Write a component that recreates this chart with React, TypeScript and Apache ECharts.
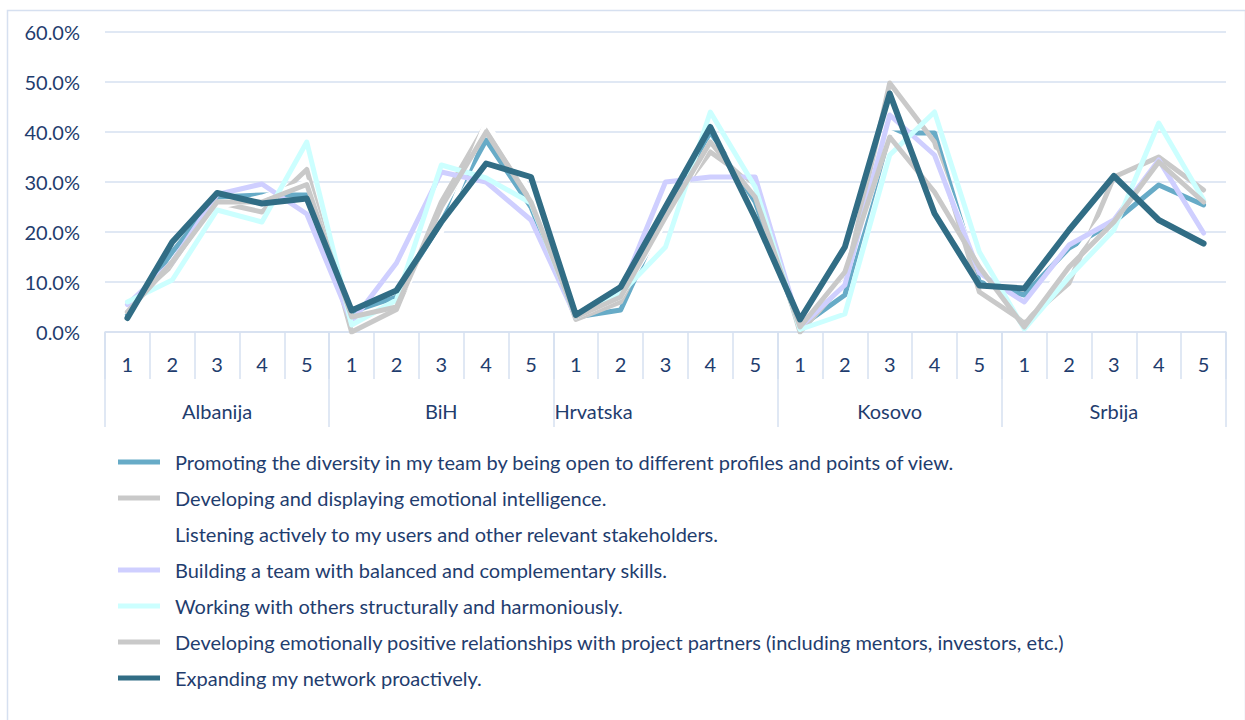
import React, { useEffect, useRef } from "react";
import * as echarts from "echarts";

const countries = ["Albanija", "BiH", "Hrvatska", "Kosovo", "Srbija"];
const levels = ["1", "2", "3", "4", "5"];
const yTicks = [0, 10, 20, 30, 40, 50, 60];

const seriesNames = [
  "Promoting the diversity in my team by being open to different profiles and points of view.",
  "Developing and displaying emotional intelligence.",
  "Listening actively to my users and other relevant stakeholders.",
  "Building a team with balanced and complementary skills.",
  "Working with others structurally and harmoniously.",
  "Developing emotionally positive relationships with project partners (including mentors, investors, etc.)",
  "Expanding my network proactively.",
];

const promoting = [3.5, 16, 27, 27.4, 27.4, 4, 7, 22, 38.4, 25, 3, 4.4, 24, 40, 26, 1, 7.4, 39.8, 39.8, 10, 7.4, 16.8, 22, 29.4, 25.4];
const emotional = [4, 12.5, 26, 24, 32.5, 0, 4.5, 26, 41.5, 27, 2.5, 6, 24, 36, 29.6, 0, 10, 49.8, 38, 8, 2, 9.8, 31, 35, 28.4];
const listening = [4, 12, 25, 27, 30, 2, 6, 20, 42, 28, 3, 7, 22, 38, 30, 1, 10, 40, 36, 12, 3, 14, 26, 33, 27];
const building = [5.5, 14, 27.5, 29.6, 23.6, 2, 13.8, 32, 30, 22.4, 3, 8, 30, 31, 31, 1, 9.4, 43.4, 35.4, 11.8, 6, 17.4, 22.4, 34.4, 19.8];
const working = [6, 10.4, 24.4, 22, 38, 1.4, 6.4, 33.4, 30.8, 25.8, 3, 7.7, 17, 44, 29, 0.5, 3.6, 35.4, 44, 16, 0.6, 11, 20.4, 41.8, 26.4];
const relationships = [4, 14, 26, 26, 29.5, 3, 5, 25, 40, 26, 3, 7, 23, 38, 27, 1, 12, 39, 28, 13, 1, 13, 22, 34, 26];
const expanding = [2.8, 18, 27.8, 25.7, 26.7, 4.3, 8.3, 22, 33.7, 31, 3.4, 9, 25, 41, 22.8, 2.5, 17, 47.7, 23.7, 9.3, 8.7, 20.4, 31.2, 22.4, 17.7];

const seriesValues = [promoting, emotional, listening, building, working, relationships, expanding];
const seriesColors = ["#67ABC7", "#C9C9C9", "#FFFFFF", "#CFCFFF", "#CCFFFF", "#C9C9C9", "#316D85"];

const TEXT = "#1F3D6E";
const GRIDC = "#D6E0F0";
const FONT = "Lato, 'Open Sans', sans-serif";

export default function App() {
  const ref = useRef<HTMLDivElement>(null);
  useEffect(() => {
    const chart = echarts.init(ref.current!, null, { renderer: "svg" });
    const levelCats: string[] = [];
    countries.forEach(() => levels.forEach((l) => levelCats.push(l)));
    const countryCats = countries.map((c) =>
      c === "Hrvatska"
        ? { value: c, textStyle: { padding: [0, 144, 0, 0] } }
        : c
    );
    chart.setOption({
      animation: false,
      backgroundColor: "#FFFFFF",
      textStyle: { fontFamily: FONT },
      graphic: [
        {
          type: "rect",
          left: 5,
          top: 8,
          shape: { width: 1238, height: 730 },
          style: { fill: "none", stroke: GRIDC, lineWidth: 1.5 },
          silent: true,
        },
      ],
      grid: { left: 105, right: 19, top: 32, bottom: 388 },
      legend: {
        orient: "vertical",
        left: 113,
        top: 446,
        icon: "rect",
        itemWidth: 42,
        itemHeight: 5,
        itemGap: 14,
        data: seriesNames.map((n, i) => ({ name: n, itemStyle: { color: seriesColors[i] } })),
        textStyle: {
          color: TEXT,
          fontSize: 20,
          fontFamily: FONT,
          lineHeight: 22,
          padding: [0, 0, 0, 10],
        },
        selectedMode: false,
      },
      xAxis: [
        {
          type: "category",
          data: levelCats,
          position: "bottom",
          axisLine: { show: true, lineStyle: { color: GRIDC, width: 1.5 } },
          axisTick: { show: true, length: 47, interval: 0, lineStyle: { color: GRIDC, width: 1.5 } },
          axisLabel: { interval: 0, color: TEXT, fontSize: 20, margin: 22, fontFamily: FONT },
          splitLine: { show: false },
        },
        {
          type: "category",
          data: countryCats,
          position: "bottom",
          axisLine: { show: false },
          axisTick: { show: true, length: 95, interval: 0, lineStyle: { color: GRIDC, width: 1.5 } },
          axisLabel: { interval: 0, color: TEXT, fontSize: 20, margin: 69, fontFamily: FONT },
          splitLine: { show: false },
        },
      ],
      yAxis: {
        type: "value",
        min: yTicks[0],
        max: yTicks[yTicks.length - 1],
        interval: 10,
        axisLine: { show: false },
        axisTick: { show: false },
        axisLabel: {
          color: TEXT,
          fontSize: 20,
          margin: 25,
          fontFamily: FONT,
          formatter: (v: number) => v.toFixed(1) + "%",
        },
        splitLine: { lineStyle: { color: GRIDC, width: 1.5 } },
      },
      series: seriesNames.map((n, i) => ({
        name: n,
        type: "line",
        xAxisIndex: 0,
        data: seriesValues[i],
        symbol: "none",
        color: seriesColors[i],
        lineStyle: { color: seriesColors[i], width: i === 6 ? 6 : 5, join: "round", cap: "round" },
        itemStyle: { color: seriesColors[i] },
      })),
    });
    return () => chart.dispose();
  }, []);
  return (
    <div
      ref={ref}
      style={{ position: "fixed", left: 0, top: 0, width: 1245, height: 720 }}
    />
  );
}
